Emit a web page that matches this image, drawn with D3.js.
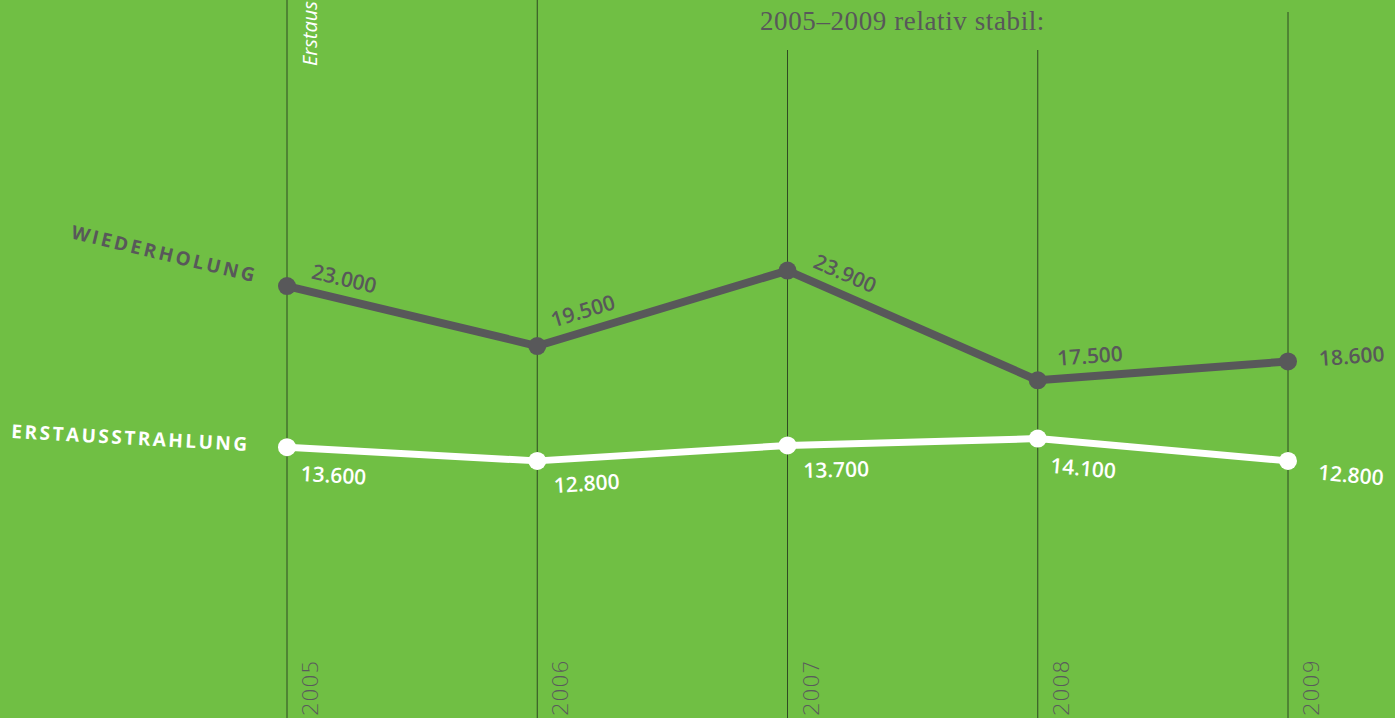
<!DOCTYPE html>
<html>
<head>
<meta charset="utf-8">
<script src="https://cdn.jsdelivr.net/npm/d3@7"></script>
<style>
html, body { margin: 0; padding: 0; background: #70bf44; overflow: hidden; }
svg { display: block; }
</style>
</head>
<body>
<div class="chart"></div>
<script>
// data
var years = [2005, 2006, 2007, 2008, 2009];
var wiederholung = [23000, 19500, 23900, 17500, 18600];
var erstausstrahlung = [13600, 12800, 13700, 14100, 12800];
var valueLabels1 = ['23.000', '19.500', '23.900', '17.500', '18.600'];
var valueLabels2 = ['13.600', '12.800', '13.700', '14.100', '12.800'];
var seriesNames = ['WIEDERHOLUNG', 'ERSTAUSSTRAHLUNG'];
var title = '2005–2009 relativ stabil:';
var sideNote = 'Erstaus';

var width = 1395, height = 718;
var gridTop = [0, 0, 50, 50, 12];

var svg = d3.select('div.chart')
  .append('svg')
  .attr('width', width)
  .attr('height', height);

var x = d3.scaleLinear()
  .domain([2005, 2009])
  .range([287, 1288]);

var y = d3.scaleLinear()
  .domain([0, 40000])
  .range([680.3, -5.4]);

// vertical year lines
svg.selectAll('.grid')
  .data(years)
  .enter()
  .append('line')
  .attr('class', 'grid')
  .attr('x1', function(d){ return x(d); })
  .attr('x2', function(d){ return x(d); })
  .attr('y1', function(d, i){ return gridTop[i]; })
  .attr('y2', height)
  .attr('stroke', '#2f4a22')
  .attr('stroke-width', 1);

// year labels
svg.selectAll('.year')
  .data(years)
  .enter()
  .append('text')
  .attr('class', 'year')
  .attr('transform', function(d){ return 'translate(' + (x(d) + 31) + ',' + 716 + ') rotate(-90)'; })
  .attr('font-family', 'DejaVu Sans')
  .attr('font-size', 22)
  .attr('font-weight', 200)
  .attr('fill', '#5a5a5c')
  .text(function(d){ return d; });

// title
svg.append('text')
  .attr('x', 760)
  .attr('y', 30)
  .attr('font-family', 'Liberation Serif')
  .attr('font-size', 27)
  .attr('letter-spacing', 0.6)
  .attr('fill', '#58585a')
  .text(title);

svg.append('text')
  .attr('transform', 'translate(317,66) rotate(-90)')
  .attr('font-family', 'Open Sans')
  .attr('font-style', 'italic')
  .attr('font-size', 20)
  .attr('fill', '#ffffff')
  .text(sideNote);

function angleAt(vals, i) {
  var a = i < vals.length - 1 ? i : i - 1;
  var dx = x(years[a + 1]) - x(years[a]);
  var dy = y(vals[a + 1]) - y(vals[a]);
  return Math.atan2(dy, dx) * 180 / Math.PI;
}

function drawSeries(vals, labels, color, lw, name, above, nameWidth, nameOffset) {
  var line = d3.line()
    .x(function(d, i){ return x(years[i]); })
    .y(function(d){ return y(d); });

  svg.append('path')
    .datum(vals)
    .attr('d', line)
    .attr('fill', 'none')
    .attr('stroke', color)
    .attr('stroke-width', lw)
    .attr('stroke-linejoin', 'round');

  svg.selectAll(null)
    .data(vals)
    .enter()
    .append('circle')
    .attr('cx', function(d, i){ return x(years[i]); })
    .attr('cy', function(d){ return y(d); })
    .attr('r', 9)
    .attr('fill', color);

  var n = vals.length;
  svg.selectAll(null)
    .data(vals)
    .enter()
    .append('text')
    .attr('transform', function(d, i){
      return 'translate(' + x(years[i]) + ',' + y(d) + ') rotate(' + angleAt(vals, i) + ')';
    })
    .attr('x', function(d, i){ return i === n - 1 ? 31 : (above ? 21 : 15); })
    .attr('y', function(d, i){
      if (i === n - 1) return above ? 7 : 16;
      return above ? -13 : 33;
    })
    .attr('font-family', 'Open Sans')
    .attr('font-weight', 600)
    .attr('font-size', 21)
    .attr('fill', color)
    .text(function(d, i){ return labels[i]; });

  // series name
  svg.append('text')
    .attr('transform', 'translate(' + x(years[0]) + ',' + y(vals[0]) + ') rotate(' + angleAt(vals, 0) + ')')
    .attr('x', nameOffset[0])
    .attr('y', nameOffset[1])
    .attr('text-anchor', 'end')
    .attr('font-family', 'Open Sans')
    .attr('font-weight', 'bold')
    .attr('font-size', 19)
    .attr('textLength', nameWidth)
    .attr('lengthAdjust', 'spacing')
    .attr('fill', color)
    .text(name);
}

drawSeries(wiederholung, valueLabels1, '#58585a', 8, seriesNames[0], true, 188, [-34, 4]);
drawSeries(erstausstrahlung, valueLabels2, '#ffffff', 7, seriesNames[1], false, 236, [-40, 6]);
</script>
</body>
</html>
